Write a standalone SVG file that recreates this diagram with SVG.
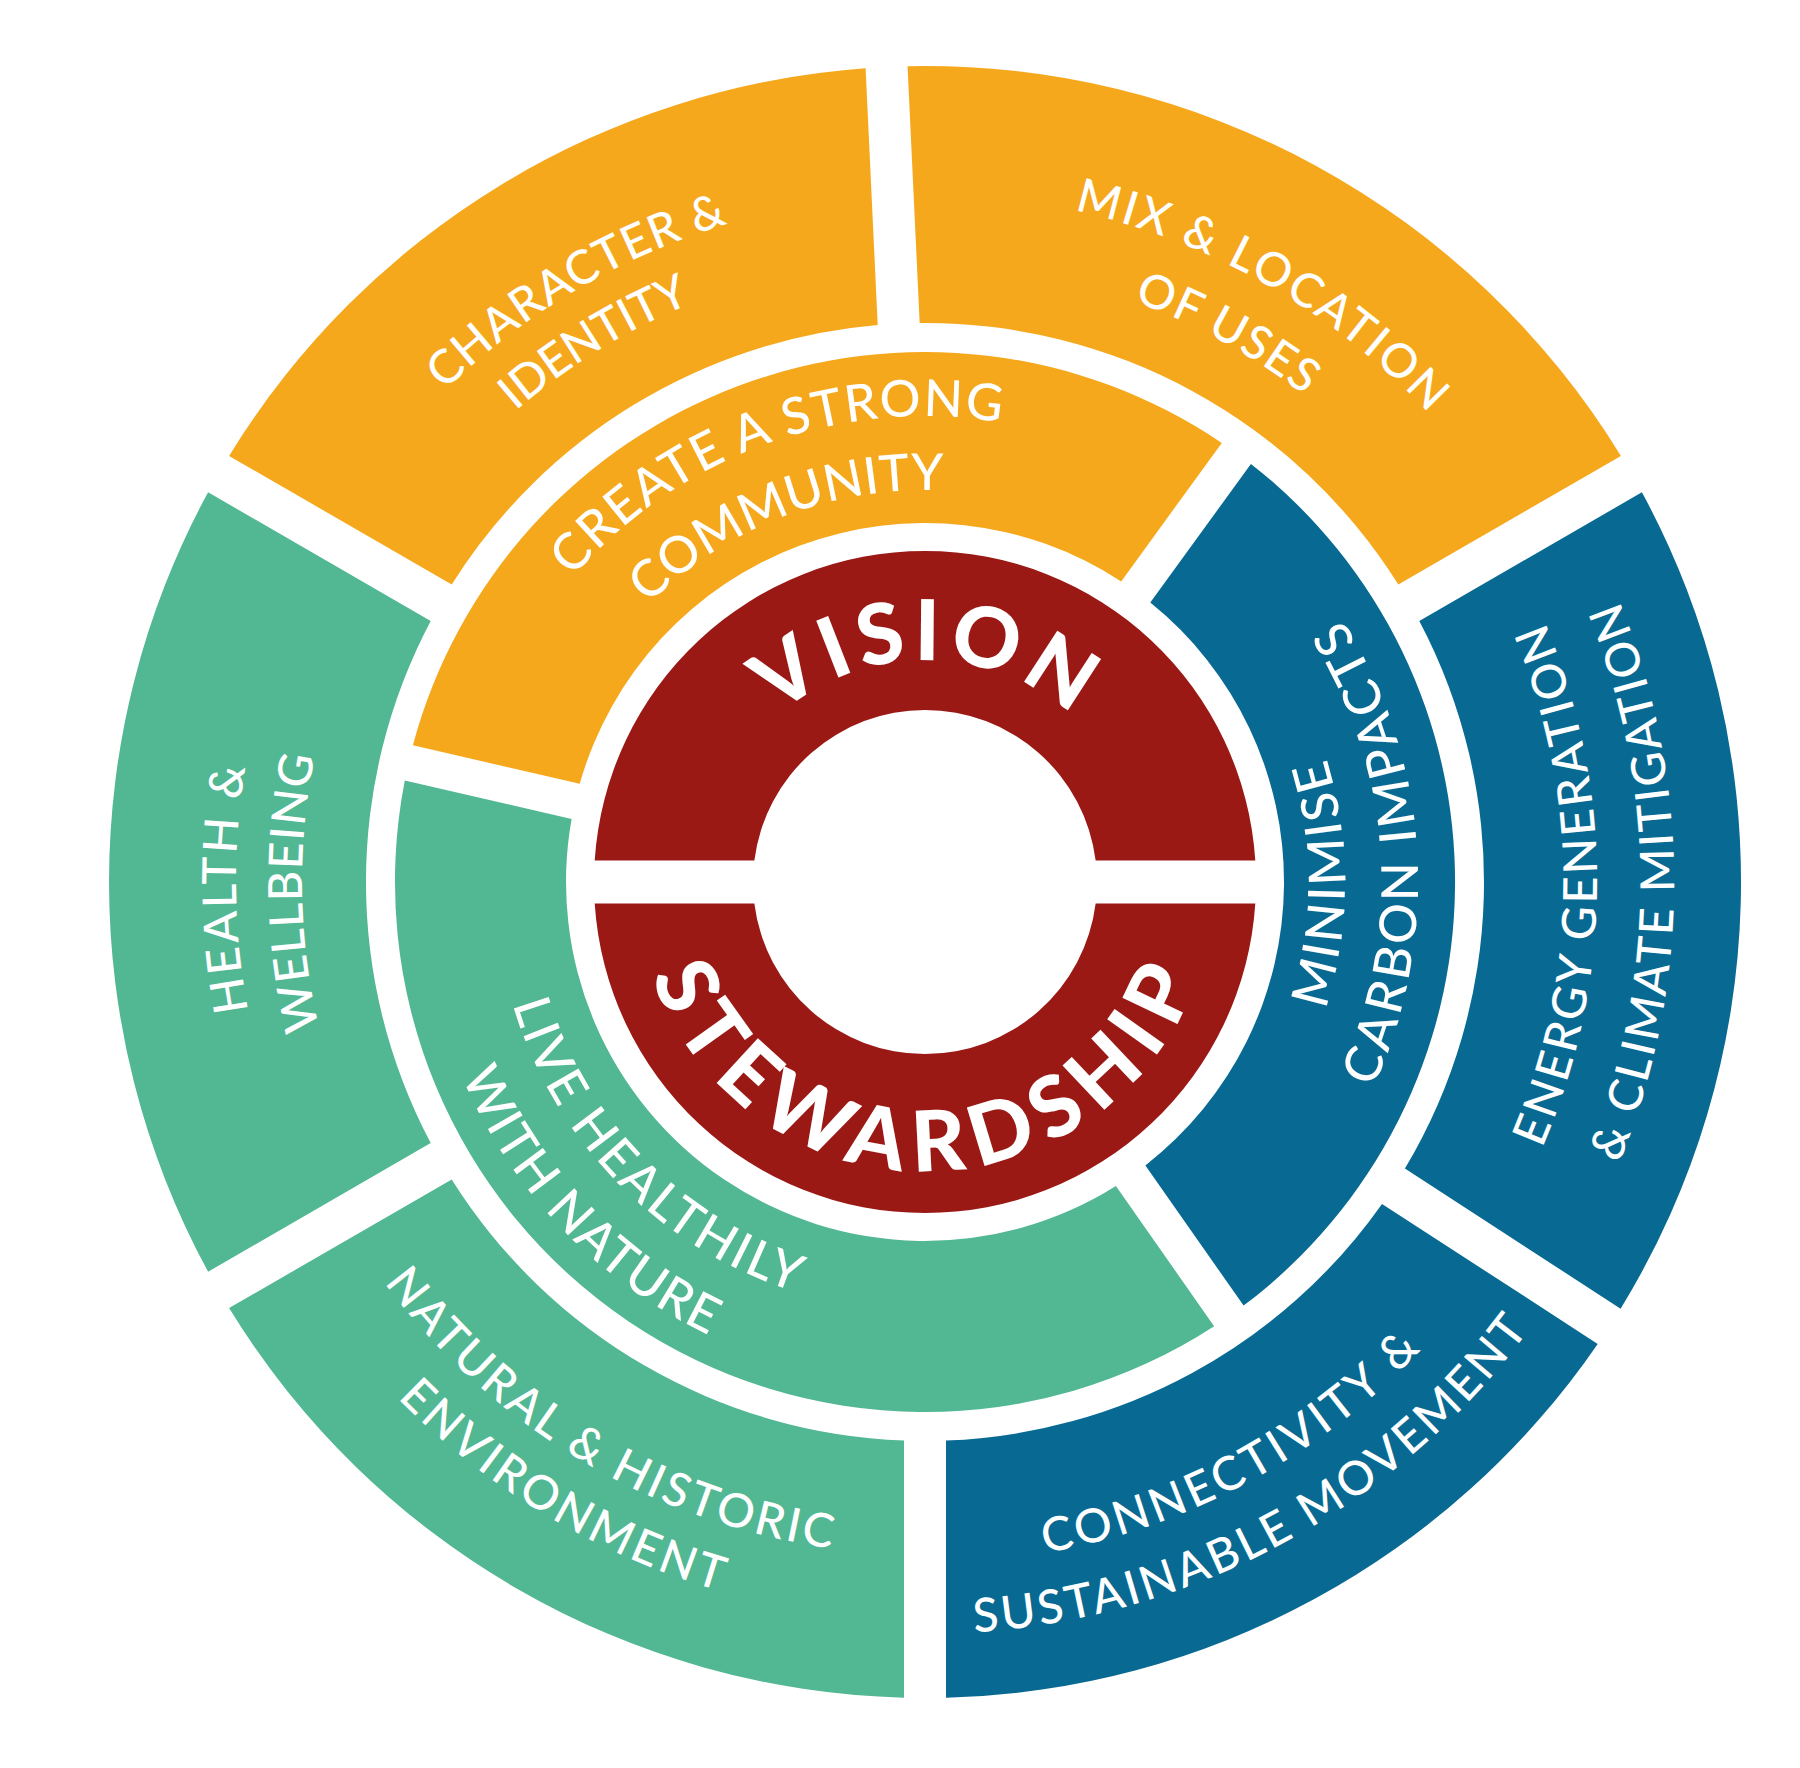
<svg xmlns="http://www.w3.org/2000/svg" xmlns:xlink="http://www.w3.org/1999/xlink" width="1800" height="1768" viewBox="0 0 1800 1768">
<style>
.o{fill:#F6A81D}.g{fill:#52B793}.b{fill:#086A93}.r{fill:#9B1915}
.t{font-family:Lato,"Open Sans","Noto Sans",sans-serif;fill:#fff;font-size:47px;font-weight:500}
.tm{font-size:51px}
.tc{font-size:84px;font-weight:900}
</style>
<defs>
<path id="pChar" d="M238,882 A687,687 0 0 1 1612,882"/>
<path id="pIdent" d="M301,882 A624,624 0 0 1 1549,882"/>
<path id="pMix" d="M237,882 A688,688 0 0 1 1613,882"/>
<path id="pUses" d="M308,882 A617,617 0 0 1 1542,882"/>
<path id="pCreate" d="M459,882 A466,466 0 0 1 1391,882"/>
<path id="pComm" d="M533,882 A392,392 0 0 1 1317,882"/>
<path id="pVision" d="M703,882 A222,222 0 0 1 1147,882"/>
<path id="pHealth" d="M236,882 A689,689 0 0 1 1614,882"/>
<path id="pWell" d="M302,882 A623,623 0 0 1 1548,882"/>
<path id="pMin" d="M505,882 A420,420 0 0 0 1345,882"/>
<path id="pCarbon" d="M432,882 A493,493 0 0 0 1418,882"/>
<path id="pEnergy" d="M253,882 A672,672 0 0 0 1597,882"/>
<path id="pClimate" d="M176,882 A749,749 0 0 0 1674,882"/>
<path id="pLive" d="M495,882 A430,430 0 0 0 1355,882"/>
<path id="pWith" d="M423,882 A502,502 0 0 0 1427,882"/>
<path id="pNat" d="M252,882 A673,673 0 0 0 1598,882"/>
<path id="pEnv" d="M187,882 A738,738 0 0 0 1663,882"/>
<path id="pConn" d="M243,882 A682,682 0 0 0 1607,882"/>
<path id="pSust" d="M173,882 A752,752 0 0 0 1677,882"/>
<path id="pStew" d="M636,882 A289,289 0 0 0 1214,882"/>
</defs>
<rect width="1800" height="1768" fill="#fff"/>

<g id="seg-character">
<path class="o" d="M229.1,455.9 A816,816 0 0 1 865.6,68.2 L877.7,325 A559,559 0 0 0 451.7,584.5 Z"/>
<text class="t" transform="rotate(-30.5 925 882)"><textPath href="#pChar" xlink:href="#pChar" startOffset="50%" text-anchor="middle" textLength="332" lengthAdjust="spacing">CHARACTER &amp;</textPath></text>
<text class="t" transform="rotate(-31.5 925 882)"><textPath href="#pIdent" xlink:href="#pIdent" startOffset="50%" text-anchor="middle" textLength="207" lengthAdjust="spacing">IDENTITY</textPath></text>
</g>

<g id="seg-mix">
<path class="o" d="M907.55,66.2 A816,816 0 0 1 1620.9,455.9 L1398.3,584.5 A559,559 0 0 0 919.66,323 Z"/>
<text class="t" transform="rotate(29.8 925 882)"><textPath href="#pMix" xlink:href="#pMix" startOffset="50%" text-anchor="middle" textLength="415" lengthAdjust="spacing">MIX &amp; LOCATION</textPath></text>
<text class="t" transform="rotate(28.85 925 882)"><textPath href="#pUses" xlink:href="#pUses" startOffset="50%" text-anchor="middle" textLength="196" lengthAdjust="spacing">OF USES</textPath></text>
</g>

<g id="seg-energy">
<path class="b" d="M1641.9,492.3 A816,816 0 0 1 1620.6,1308.7 L1404.9,1168.6 A559,559 0 0 0 1419.3,620.9 Z"/>
<text class="t" transform="rotate(-89.7 925 882)"><textPath href="#pEnergy" xlink:href="#pEnergy" startOffset="50%" text-anchor="middle" textLength="541" lengthAdjust="spacing">ENERGY GENERATION</textPath></text>
<text class="t" transform="rotate(-90 925 882)"><textPath href="#pClimate" xlink:href="#pClimate" startOffset="50%" text-anchor="middle" textLength="577" lengthAdjust="spacing">&amp; CLIMATE MITIGATION</textPath></text>
</g>

<g id="seg-connectivity">
<path class="b" d="M1597.7,1343.9 A816,816 0 0 1 946,1697.7 L946,1440.6 A559,559 0 0 0 1382,1203.9 Z"/>
<text class="t" transform="rotate(-28.4 925 882)"><textPath href="#pConn" xlink:href="#pConn" startOffset="50%" text-anchor="middle" textLength="435" lengthAdjust="spacing">CONNECTIVITY &amp;</textPath></text>
<text class="t" transform="rotate(-28.6 925 882)"><textPath href="#pSust" xlink:href="#pSust" startOffset="50%" text-anchor="middle" textLength="652" lengthAdjust="spacing">SUSTAINABLE MOVEMENT</textPath></text>
</g>

<g id="seg-natural">
<path class="g" d="M904,1697.7 A816,816 0 0 1 229.1,1308.1 L451.7,1179.5 A559,559 0 0 0 904,1440.6 Z"/>
<text class="t" transform="rotate(30.75 925 882)"><textPath href="#pNat" xlink:href="#pNat" startOffset="50%" text-anchor="middle" textLength="534" lengthAdjust="spacing">NATURAL &amp; HISTORIC</textPath></text>
<text class="t" transform="rotate(30.9 925 882)"><textPath href="#pEnv" xlink:href="#pEnv" startOffset="50%" text-anchor="middle" textLength="380" lengthAdjust="spacing">ENVIRONMENT</textPath></text>
</g>

<g id="seg-health">
<path class="g" d="M208.1,1271.7 A816,816 0 0 1 208.1,492.3 L430.7,620.9 A559,559 0 0 0 430.7,1143.1 Z"/>
<text class="t" transform="rotate(-90.6 925 882)"><textPath href="#pHealth" xlink:href="#pHealth" startOffset="50%" text-anchor="middle" textLength="245" lengthAdjust="spacing">HEALTH &amp;</textPath></text>
<text class="t" transform="rotate(-91 925 882)"><textPath href="#pWell" xlink:href="#pWell" startOffset="50%" text-anchor="middle" textLength="275" lengthAdjust="spacing">WELLBEING</textPath></text>
</g>

<g id="seg-community">
<path class="o" d="M412.9,745.3 A530,530 0 0 1 1221.8,442.9 L1121.2,581.4 A359,359 0 0 0 579.7,783.8 Z"/>
<text class="t tm" transform="rotate(-19.9 925 882)"><textPath href="#pCreate" xlink:href="#pCreate" startOffset="50%" text-anchor="middle" textLength="476" lengthAdjust="spacing">CREATE A STRONG</textPath></text>
<text class="t tm" transform="rotate(-21.1 925 882)"><textPath href="#pComm" xlink:href="#pComm" startOffset="50%" text-anchor="middle" textLength="325" lengthAdjust="spacing">COMMUNITY</textPath></text>
</g>

<g id="seg-carbon">
<path class="b" d="M1250.9,464 A530,530 0 0 1 1243.6,1305.6 L1145.4,1165.4 A359,359 0 0 0 1150.3,602.5 Z"/>
<text class="t tm" transform="rotate(-89.7 925 882)"><textPath href="#pMin" xlink:href="#pMin" startOffset="50%" text-anchor="middle" textLength="255" lengthAdjust="spacing">MINIMISE</textPath></text>
<text class="t tm" transform="rotate(-93.8 925 882)"><textPath href="#pCarbon" xlink:href="#pCarbon" startOffset="50%" text-anchor="middle" textLength="490" lengthAdjust="spacing">CARBON IMPACTS</textPath></text>
</g>

<g id="seg-nature">
<path class="g" d="M1214.1,1326.2 A530,530 0 0 1 404.8,780.4 L571.6,818.9 A359,359 0 0 0 1115.9,1186 Z"/>
<text class="t tm" transform="rotate(45.5 925 882)"><textPath href="#pLive" xlink:href="#pLive" startOffset="50%" text-anchor="middle" textLength="420" lengthAdjust="spacing">LIVE HEALTHILY</textPath></text>
<text class="t tm" transform="rotate(46.4 925 882)"><textPath href="#pWith" xlink:href="#pWith" startOffset="50%" text-anchor="middle" textLength="366" lengthAdjust="spacing">WITH NATURE</textPath></text>
</g>

<g id="core-vision">
<path class="r" d="M594.7,860.5 A331,331 0 0 1 1255.3,860.5 L1095.65,860.5 A172,172 0 0 0 754.35,860.5 Z"/>
<text class="t tc"><textPath href="#pVision" xlink:href="#pVision" startOffset="50%" text-anchor="middle" textLength="321" lengthAdjust="spacing">VISION</textPath></text>
</g>

<g id="core-stewardship">
<path class="r" d="M594.7,903.5 A331,331 0 0 0 1255.3,903.5 L1095.65,903.5 A172,172 0 0 1 754.35,903.5 Z"/>
<text class="t tc" transform="rotate(0.6 925 882)"><textPath href="#pStew" xlink:href="#pStew" startOffset="50%" text-anchor="middle" textLength="710" lengthAdjust="spacing">STEWARDSHIP</textPath></text>
</g>
</svg>
